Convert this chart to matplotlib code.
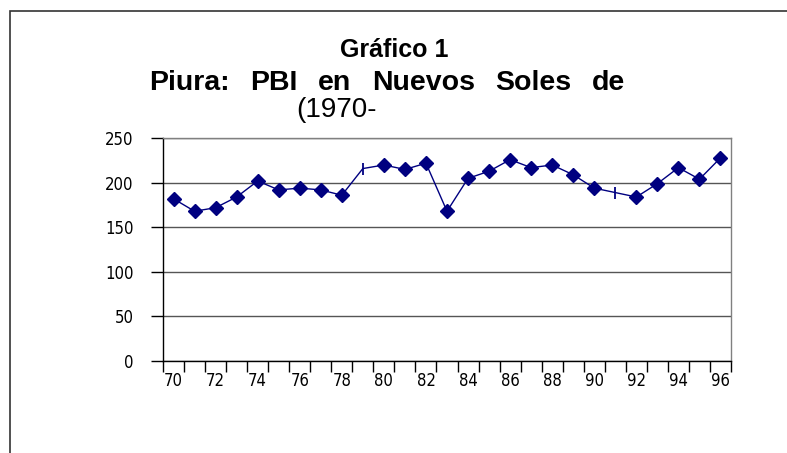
import numpy as np
import matplotlib
matplotlib.use('Agg')
import matplotlib.pyplot as plt
from matplotlib.patches import Rectangle

# data
years = ['70', '71', '72', '73', '74', '75', '76', '77', '78', '79', '80', '81', '82', '83',
         '84', '85', '86', '87', '88', '89', '90', '91', '92', '93', '94', '95', '96']
pbi = [182, 168, 172, 184, 202, 192, 194, 192, 186, 216, 220, 215, 222, 168,
       205, 213, 226, 217, 220, 209, 194, 189, 184, 199, 217, 204, 228]
# years drawn with a '|' marker instead of a diamond
tick_years = ['79', '91']

W, H = 787, 453
fig = plt.figure(figsize=(W / 100, H / 100), dpi=100)

# outer chart frame (runs off the right and bottom edges)
fig.patches.append(Rectangle((10 / W, -0.1), 1.2, 1.1 - 11 / H, transform=fig.transFigure,
                             fill=False, edgecolor='#333333', linewidth=1.2))

ax = fig.add_axes([163 / W, 1 - 360.7 / H, (731 - 163) / W, (360.7 - 138.3) / H])

x = np.arange(len(years))
y = np.array(pbi)
mask = np.array([yr not in tick_years for yr in years])

ax.plot(x, y, color='#000080', linewidth=1)
ax.plot(x[mask], y[mask], 'D', color='#000080', markersize=7, linestyle='none')
ax.plot(x[~mask], y[~mask], '|', color='#000080', markersize=9, markeredgewidth=1.3, linestyle='none')

ax.set_xlim(-0.5, len(years) - 0.5)
ax.set_ylim(0, 250)
ax.set_yticks(np.arange(0, 251, 50))
ax.set_yticklabels([str(v) for v in range(0, 251, 50)], family='DejaVu Sans',
                   fontstretch='condensed', fontsize=12)
ax.yaxis.grid(True, color='#555555', linewidth=1)
ax.set_axisbelow(True)
ax.tick_params(axis='y', direction='out', length=9, width=1, pad=12)

# major ticks at category boundaries, labels every other year on minor ticks
ax.set_xticks(np.arange(-0.5, len(years), 1.0))
ax.set_xticklabels([])
ax.set_xticks(x[::2], minor=True)
ax.set_xticklabels(years[::2], minor=True, family='DejaVu Sans',
                   fontstretch='condensed', fontsize=12)
ax.tick_params(axis='x', which='major', direction='out', length=8, width=1)
ax.tick_params(axis='x', which='minor', length=0, pad=8)

for s in ['left', 'bottom']:
    ax.spines[s].set_color('black')
    ax.spines[s].set_linewidth(1)
for s in ['right', 'top']:
    ax.spines[s].set_color('#808080')
    ax.spines[s].set_linewidth(1)

# title
fig.text(394 / W, 1 - 57 / H, 'Gráfico 1', ha='center', va='baseline',
         family='Liberation Sans', fontweight='bold', fontsize=18)

# second line is spread out in the original: lay the words evenly between x0 and x1
words = ['Piura:', 'PBI', 'en', 'Nuevos', 'Soles', 'de']
x0, x1 = 149, 625
renderer = fig.canvas.get_renderer()
texts = [fig.text(0, 1 - 90 / H, w, ha='left', va='baseline', family='Liberation Sans',
                  fontweight='bold', fontsize=20.5) for w in words]
widths = [t.get_window_extent(renderer).width for t in texts]
gap = (x1 - x0 - sum(widths)) / (len(words) - 1)
pos = x0
for t, w in zip(texts, widths):
    t.set_x(pos / W)
    pos += w + gap

fig.text(296 / W, 1 - 117 / H, '(1970-', ha='left', va='baseline',
         family='Liberation Sans', fontsize=20)

plt.savefig('out.png', dpi=100)
